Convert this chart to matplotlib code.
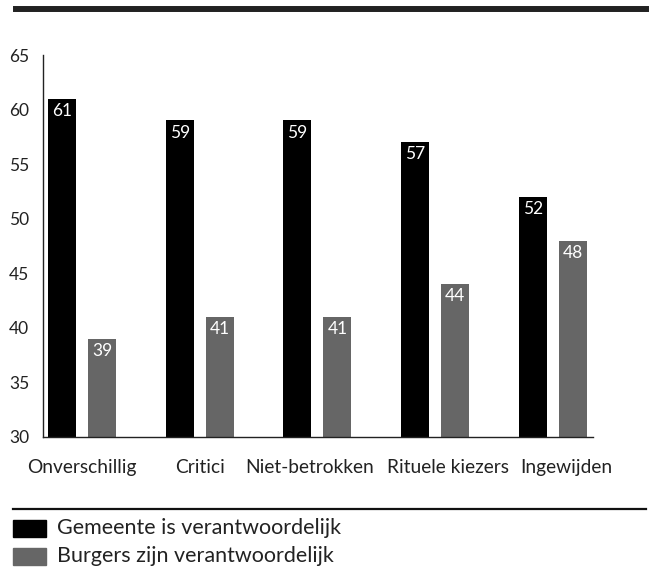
import numpy as np
import matplotlib.pyplot as plt
from matplotlib.patches import Rectangle
from matplotlib.lines import Line2D
from matplotlib.transforms import ScaledTranslation

plt.rcParams['font.family'] = ['Lato', 'DejaVu Sans']

# data
categories = ["Onverschillig", "Critici", "Niet-betrokken", "Rituele kiezers", "Ingewijden"]
gemeente = [61, 59, 59, 57, 52]
burgers = [39, 41, 41, 44, 48]
series_names = ["Gemeente is verantwoordelijk", "Burgers zijn verantwoordelijk"]
colors = ["#000000", "#666666"]

W, H = 652, 567
fig = plt.figure(figsize=(W / 100, H / 100), dpi=100)
ax = fig.add_axes([43 / W, 1 - 437 / H, 550 / W, 382 / H])

x = np.arange(len(categories))
bw = 0.238
off = 0.17
for vals, dx, c in [(gemeente, -off, colors[0]), (burgers, off, colors[1])]:
    ax.bar(x + dx, vals, width=bw, color=c)
    for xi, v in zip(x + dx, vals):
        ax.annotate(str(v), (xi, v), xytext=(0, -3), textcoords="offset points",
                    ha="center", va="top", color="white", fontsize=12.5)

ax.set_ylim(30, 65)
ax.set_xlim(-0.331, 4.34)
ax.set_yticks(np.arange(30, 66, 5))
ax.set_xticks(x)
ax.set_xticklabels(categories)
ax.tick_params(axis="y", length=0, labelsize=12.5, colors="#222222", pad=10)
ax.tick_params(axis="x", length=0, labelsize=13.8, colors="#222222", pad=16)

# labels in the original are nudged sideways so they don't collide
label_shift_px = [0, 0, -8, 13, 13]
for lab, dxp in zip(ax.get_xticklabels(), label_shift_px):
    lab.set_transform(lab.get_transform() + ScaledTranslation(dxp / 100, 0, fig.dpi_scale_trans))

for s in ["top", "right"]:
    ax.spines[s].set_visible(False)
for s in ["left", "bottom"]:
    ax.spines[s].set_color("#222222")
    ax.spines[s].set_linewidth(1)

# header and footer rules
fig.add_artist(Line2D([16 / W, 646 / W], [1 - 9 / H, 1 - 9 / H], color="#222222", lw=4.3))
fig.add_artist(Line2D([13 / W, 646 / W], [1 - 508.5 / H, 1 - 508.5 / H], color="#111111", lw=1.6))

# legend
for i, (name, c) in enumerate(zip(series_names, colors)):
    y0 = 520 + i * 28
    fig.add_artist(Rectangle((13 / W, 1 - (y0 + 17) / H), 33 / W, 17 / H, color=c, transform=fig.transFigure))
    fig.text(57 / W, 1 - (y0 + 8.5) / H, name, ha="left", va="center", fontsize=15.5, color="#222222")

fig.savefig("out.png", dpi=100)
